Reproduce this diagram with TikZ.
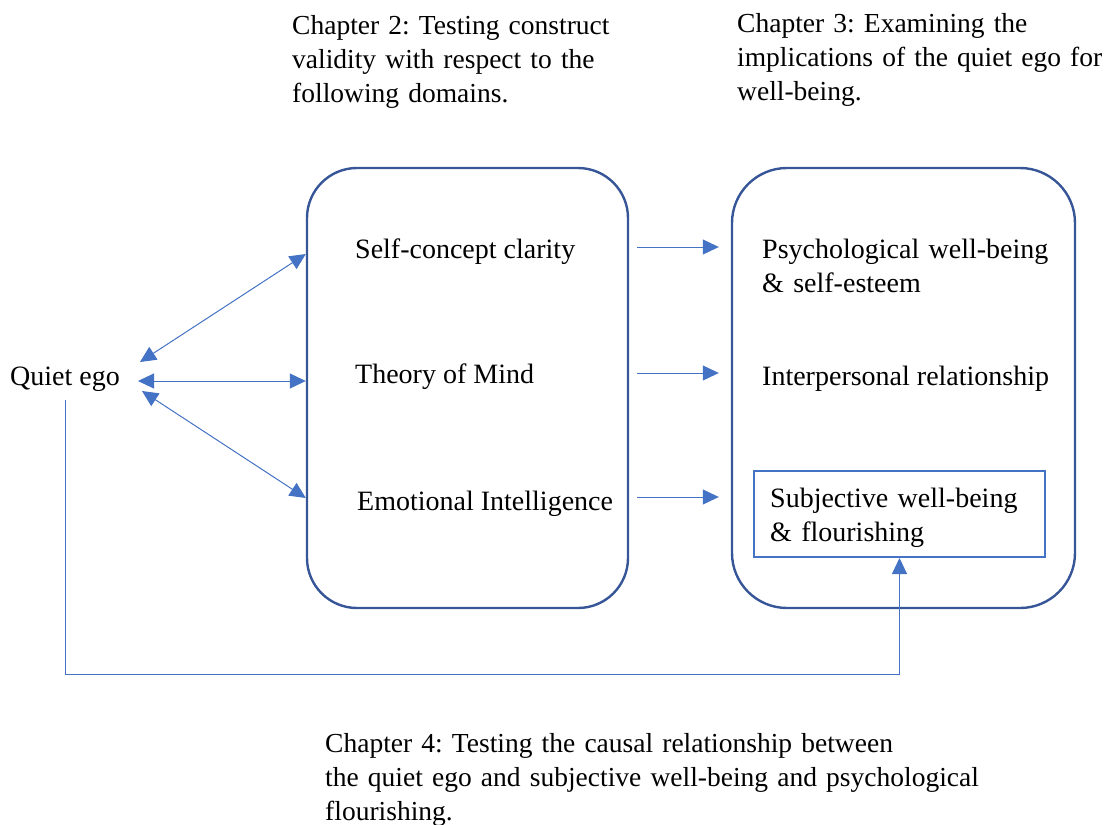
\documentclass[tikz,border=0pt]{standalone}
\usepackage{fontspec}
\setmainfont{Liberation Serif}
\usetikzlibrary{arrows.meta}
\definecolor{boxblue}{HTML}{365698}
\definecolor{arrblue}{HTML}{4472C4}
\begin{document}
\frenchspacing
\begin{tikzpicture}[x=1pt,y=-1pt,
  txt/.style={inner sep=0pt, anchor=base west, font=\fontsize{28}{34.5}\selectfont\frenchspacing},
  para/.style={txt, text width=700pt},
  heading/.style={para, font=\fontsize{27.5}{34.3}\selectfont\frenchspacing},
  bigbox/.style={draw=boxblue, line width=2.4pt, rounded corners=#1, inner sep=0pt},
  innerbox/.style={draw=arrblue, line width=2pt, inner sep=0pt},
  conn/.style={draw=arrblue, line width=1pt},
  arr/.style={conn, -{Triangle[length=16pt,width=15pt]}},
  dblarr/.style={conn, {Triangle[length=16pt,width=15pt]}-{Triangle[length=16pt,width=15pt]}}]
\useasboundingbox (0,0) rectangle (1109,825);

% chapter headings (lines broken by hand)
\node[heading] (ch2) at (292,34) {Chapter 2: Testing construct\\validity with respect to the\\following domains.};
\node[heading] (ch3) at (737,32) {Chapter 3: Examining the\\implications of the quiet ego for\\well-being.};
\node[heading] (ch4) at (325,752) {Chapter 4: Testing the causal relationship between\\the quiet ego and subjective well-being and psychological\\flourishing.};

% the two rounded panels
\node[bigbox=50pt, minimum width=321pt, minimum height=440pt] (b1) at (467.5,388) {};
\node[bigbox=55pt, minimum width=343pt, minimum height=440pt] (b2) at (903.5,388) {};
\node[innerbox, minimum width=291pt, minimum height=86pt] (sub) at (899.5,514) {};

% labels
\node[txt] (qe) at (10,385) {Quiet ego};
\node[txt] (scc) at (355,258) {Self-concept clarity};
\node[txt] (tom) at (355,383) {Theory of Mind};
\node[txt] (ei) at (357,510) {Emotional Intelligence};
\node[para, text width=300pt] (pwb) at (762,258) {Psychological well-being\\\& self-esteem};
\node[txt] (ir) at (762,385) {Interpersonal relationship};
\node[para, text width=280pt] (swb) at (770,507) {Subjective well-being\\\& flourishing};

% arrow end points beside "Quiet ego"
\coordinate (qa) at (140,362);
\coordinate (qb) at (138,381);
\coordinate (qc) at (142,391);
\coordinate (r1) at (0,254);
\coordinate (r2) at (0,381);
\coordinate (r3) at (0,498);
\coordinate (h1) at (0,247);
\coordinate (h2) at (0,373);
\coordinate (h3) at (0,497);
\coordinate (fbrow) at (0,674);

% quiet ego <-> chapter 2 domains
\draw[dblarr] (qa) -- (b1.west |- r1);
\draw[dblarr] (qb) -- (b1.west |- r2);
\draw[dblarr] (qc) -- (b1.west |- r3);

% chapter 2 -> chapter 3
\draw[arr, shorten <=8pt, shorten >=12pt] (b1.east |- h1) -- (b2.west |- h1);
\draw[arr, shorten <=8pt, shorten >=12pt] (b1.east |- h2) -- (b2.west |- h2);
\draw[arr, shorten <=8pt, shorten >=12pt] (b1.east |- h3) -- (b2.west |- h3);

% chapter 4 causal path
\draw[arr, shorten <=9pt] (qe.south) |- (sub.south |- fbrow) -- (sub.south);
\end{tikzpicture}
\end{document}
